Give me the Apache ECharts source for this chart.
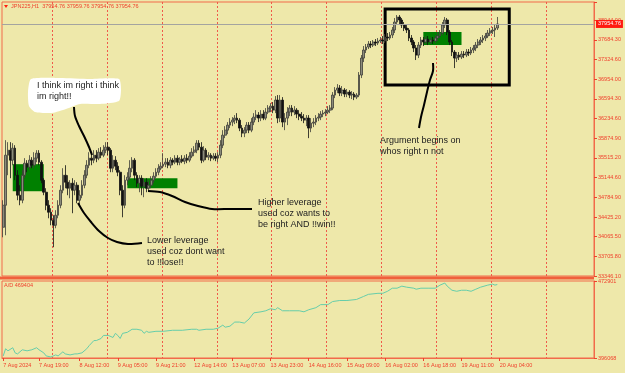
<!DOCTYPE html>
<html><head><meta charset="utf-8">
<script src="https://cdn.jsdelivr.net/npm/echarts@6/dist/echarts.min.js"></script>
<style>html,body{margin:0;padding:0;background:#EEE8AA;}#c{width:625px;height:373px;}</style>
</head><body><div id="c"></div>
<script>
// ---- data (JPN225, H1 candles: open / high / low / close) ----
const opens = [34237,34640,35555,35647,35464,35684,35189,34823,34732,35189,
35409,35336,35464,35372,35501,35592,35427,35098,34878,34640,
34512,34366,34274,34457,34640,34915,35189,35061,34951,35043,
34915,35006,34732,34823,35006,35189,35372,35501,35464,35555,
35501,35610,35555,35647,35702,35647,35317,35464,35354,35244,
34915,34640,35098,35153,35317,35464,35189,35043,35134,34988,
35061,34951,35006,35098,35171,35244,35317,35354,35391,35427,
35372,35464,35427,35501,35427,35482,35446,35501,35464,35537,
35610,35647,35775,35702,35464,35647,35519,35555,35501,35537,
35501,35555,35738,35921,36013,36105,36160,36196,36233,36196,
36050,35958,36013,36105,36013,36160,36251,36288,36233,36306,
36233,36343,36416,36452,36379,36562,36233,36562,36160,36233,
36343,36416,36343,36379,36306,36269,36233,36196,36233,36050,
36141,36160,36233,36251,36306,36324,36343,36379,36416,36654,
36745,36782,36690,36745,36672,36709,36654,36672,36617,36654,
37020,37331,37478,37533,37588,37569,37624,37606,37642,37661,
37642,37716,37697,37752,37844,37990,38082,38027,37935,37880,
37844,37697,37624,37514,37386,37569,37661,37624,37679,37624,
37661,37642,37697,37734,37789,37935,38027,37807,37624,37441,
37331,37386,37349,37404,37386,37441,37423,37478,37514,37569,
37624,37661,37697,37734,37789,37825,37844,37880];
const highs = [34732,35830,35793,35793,35775,35738,35281,35006,35281,35501,
35464,35555,35519,35610,35647,35647,35464,35134,34951,34732,
34585,34457,34549,34732,35006,35317,35372,35189,35098,35134,
35098,35061,34915,35098,35281,35464,35610,35610,35647,35647,
35684,35702,35738,35793,35793,35684,35555,35537,35427,35281,
35006,35189,35244,35464,35519,35501,35244,35189,35189,35134,
35134,35098,35171,35244,35317,35391,35427,35592,35501,35501,
35519,35501,35555,35555,35519,35555,35555,35574,35610,35684,
35720,35830,35830,35793,35720,35684,35610,35592,35592,35592,
35610,35830,36013,36086,36160,36233,36251,36288,36324,36233,
36105,36068,36160,36160,36233,36324,36379,36343,36379,36379,
36416,36471,36507,36526,36636,36654,36654,36617,36324,36434,
36471,36471,36452,36416,36379,36343,36306,36288,36288,36233,
36233,36288,36324,36361,36379,36398,36452,36471,36709,36800,
36855,36837,36819,36782,36764,36745,36727,36709,36690,37075,
37386,37551,37588,37642,37642,37661,37679,37697,37716,37734,
37771,37789,37807,37899,38063,38118,38118,38063,37990,37935,
37880,37752,37661,37569,37624,37716,37716,37734,37734,37716,
37716,37752,37807,37844,37990,38082,38063,37844,37661,37478,
37441,37441,37459,37459,37496,37496,37533,37569,37624,37679,
37716,37752,37789,37844,37880,37899,37935,38082];
const lows = [34054,34091,35189,35134,35372,35098,34732,34640,34677,35134,
35244,35281,35317,35317,35427,35372,35043,34823,34549,34402,
34274,33872,34219,34402,34585,34860,34951,34823,34768,34494,
34823,34677,34640,34768,34951,35134,35317,35372,35409,35427,
35464,35501,35519,35592,35555,35244,35244,35281,35171,34823,
34420,34585,35006,35098,35244,35098,34970,34878,34823,34787,
34878,34915,34951,35043,35134,35189,35281,35317,35336,35317,
35317,35372,35391,35372,35372,35409,35391,35409,35427,35501,
35537,35592,35647,35409,35427,35464,35464,35446,35464,35446,
35427,35501,35684,35867,35940,36050,36086,36123,36141,35995,
35885,35885,35958,35958,35976,36105,36196,36160,36178,36196,
36196,36306,36343,36324,36324,36141,36160,36068,36013,36105,
36269,36269,36288,36233,36196,36178,36141,36086,35867,35976,
36068,36105,36178,36196,36251,36269,36306,36324,36379,36599,
36690,36636,36636,36617,36617,36599,36581,36562,36581,36617,
36965,37258,37423,37496,37514,37533,37551,37569,37606,37588,
37606,37642,37661,37697,37789,37935,37953,37880,37825,37789,
37642,37569,37441,37295,37331,37514,37551,37588,37569,37588,
37588,37606,37642,37697,37752,37880,37752,37569,37368,37148,
37258,37295,37313,37331,37349,37368,37386,37423,37459,37514,
37569,37606,37642,37697,37734,37771,37716,37844];
const closes = [34640,35555,35647,35464,35684,35189,34823,34732,35189,35409,
35336,35464,35372,35501,35592,35427,35098,34878,34640,34512,
34366,34274,34457,34640,34915,35189,35061,34951,35043,34915,
35006,34732,34823,35006,35189,35372,35501,35464,35555,35501,
35610,35555,35647,35702,35647,35317,35464,35354,35244,34915,
34640,35098,35153,35317,35464,35189,35043,35134,34988,35061,
34951,35006,35098,35171,35244,35317,35354,35391,35427,35372,
35464,35427,35501,35427,35482,35446,35501,35464,35537,35610,
35647,35775,35702,35464,35647,35519,35555,35501,35537,35501,
35555,35738,35921,36013,36105,36160,36196,36233,36196,36050,
35958,36013,36105,36013,36160,36251,36288,36233,36306,36233,
36343,36416,36452,36379,36562,36233,36562,36160,36233,36343,
36416,36343,36379,36306,36269,36233,36196,36233,36050,36141,
36160,36233,36251,36306,36324,36343,36379,36416,36654,36745,
36782,36690,36745,36672,36709,36654,36672,36617,36654,37020,
37331,37478,37533,37588,37569,37624,37606,37642,37661,37642,
37716,37697,37752,37844,37990,38082,38027,37935,37880,37844,
37697,37624,37514,37386,37569,37661,37624,37679,37624,37661,
37642,37697,37734,37789,37935,38027,37807,37624,37441,37331,
37386,37349,37404,37386,37441,37423,37478,37514,37569,37624,
37661,37697,37734,37789,37825,37844,37880,37954.76];
const lastPrice = 37954.76;
// A/D indicator: bar index -> value
const adIdx = [0,1,2,4,5,6,8,10,12,14,15,17,18,20,22,23,25,26,28,30,
31,33,35,36,38,39,41,42,44,46,47,48,49,50,52,54,56,58,59,60,
61,64,67,71,75,79,81,82,85,88,90,92,93,95,97,99,101,103,105,108,
110,112,114,115,117,120,124,126,128,131,133,136,138,141,144,148,151,153,157,159,
161,163,165,167,169,172,173,175,178,181,183,185,186,188,190,192,194,196,198,200,
203,205,206,207];
const adVal = [398117,405288,403239,406312,401190,400166,404263,403239,404263,406312,
404263,401190,398117,397092,399141,398117,402214,400166,399141,400166,
400166,401190,405288,408361,413483,413483,415532,418605,418605,416556,
420654,418605,415532,420654,421678,424751,424751,423727,420654,422702,
421678,422702,422702,423727,423727,424751,424751,423727,424751,424751,
425776,428849,426800,427824,431922,431922,430898,434995,441141,442166,
443190,445239,444214,446263,443190,443190,443190,442166,444214,446263,
449337,449337,452410,453434,453434,454459,457532,459581,460605,460605,
462654,465727,465727,467776,466751,465727,464702,465727,465727,465727,
468800,470849,467776,463678,462654,463678,463678,462654,464702,466751,
468800,469825,468800,469404];
const adLast = 469404, adMin = 396068, adMax = 472901;
// axes
const priceTicks = ["33346.10","33705.80","34065.50","34425.20","34784.90","35144.60","35515.20",
"35874.90","36234.60","36594.30","36954.00","37324.60","37684.30","38044.00"];
const priceMin = 33346.1, priceStep = 359.7, priceMax = 38356.2;
const xTickIdx = [0,15,32,48,64,80,96,112,128,144,160,176,192,208];
const xTickText = ["7 Aug 2024","7 Aug 19:00","8 Aug 12:00","9 Aug 05:00","9 Aug 21:00","12 Aug 14:00",
"13 Aug 07:00","13 Aug 23:00","14 Aug 16:00","15 Aug 09:00","16 Aug 02:00","16 Aug 18:00","19 Aug 11:00","20 Aug 04:00"];
const daySepIdx = [21,44,67,90,113,136,159,182,205,228];
const slotCount = 248;
// drawn zones (bar index, price)
const greenZones = [[4,35391,17,34896],[52,35134,73,34951],[176,37807,192,37569]];
const argBox = [160,38228,212,36837];

// ---- build ----
const cats = [];
for (let i = 0; i < slotCount; i++) cats.push(String(i));
const candles = closes.map((c, i) => [opens[i], c, lows[i], highs[i]]);
const adSeries = new Array(slotCount).fill(null);
adIdx.forEach((k, j) => { adSeries[k] = adVal[j]; });

const RED = '#f0402c', FRAME = '#f26a4a', SEP = '#f05a4a';
const FONT = '"Liberation Sans", Arial, sans-serif';
const sepLine = {show: true, interval: (i) => daySepIdx.includes(i), lineStyle: {color: SEP, type: [2, 2], width: 1}};

const chart = echarts.init(document.getElementById('c'), null, {renderer: 'canvas'});
chart.setOption({
  animation: false,
  backgroundColor: '#EEE8AA',
  textStyle: {fontFamily: FONT},
  grid: [
    {left: 2, right: 31, top: 2, height: 274, show: true, borderColor: FRAME, borderWidth: 1},
    {left: 2, right: 31, top: 281, height: 77, show: true, borderColor: FRAME, borderWidth: 1}
  ],
  xAxis: [
    {type: 'category', gridIndex: 0, data: cats, boundaryGap: true,
     axisLine: {show: false}, axisTick: {show: false}, axisLabel: {show: false}, splitLine: sepLine},
    {type: 'category', gridIndex: 1, data: cats, boundaryGap: true,
     axisLine: {show: true, lineStyle: {color: FRAME}},
     axisTick: {show: true, interval: (i) => xTickIdx.includes(i), alignWithLabel: true, length: 3, lineStyle: {color: RED}},
     axisLabel: {interval: (i) => xTickIdx.includes(i), formatter: (v, i) => { const k = xTickIdx.indexOf(i); return k >= 0 ? xTickText[k] : ''; },
       align: 'left', color: RED, fontSize: 5.5, margin: 4, fontFamily: FONT},
     splitLine: sepLine}
  ],
  yAxis: [
    {type: 'value', gridIndex: 0, position: 'right', min: priceMin, max: priceMax, interval: priceStep,
     axisLine: {show: true, lineStyle: {color: FRAME}},
     axisTick: {show: true, length: 3, lineStyle: {color: RED}},
     splitLine: {show: false},
     axisLabel: {color: RED, fontSize: 5.5, margin: 4, fontFamily: FONT,
       formatter: (v) => { const k = Math.round((v - priceMin) / priceStep); return (Math.abs(v - priceMin - k * priceStep) < 1 && priceTicks[k]) ? priceTicks[k] : ''; }}},
    {type: 'value', gridIndex: 1, position: 'right', min: adMin, max: adMax, interval: adMax - adMin,
     axisLine: {show: true, lineStyle: {color: FRAME}},
     axisTick: {show: true, length: 3, lineStyle: {color: RED}},
     splitLine: {show: false},
     axisLabel: {color: RED, fontSize: 5.5, margin: 4, fontFamily: FONT,
       formatter: (v) => Math.abs(v - adMax) < 1 ? String(adMax) : (Math.abs(v - adMin) < 1 ? String(adMin) : '')}}
  ],
  series: [
    {type: 'line', xAxisIndex: 0, yAxisIndex: 0, data: [], z: 1, silent: true,
     markArea: {silent: true, itemStyle: {color: '#008000', opacity: 1},
       data: greenZones.map(z => [{xAxis: z[0], yAxis: z[1]}, {xAxis: z[2], yAxis: z[3]}])}},
    {type: 'candlestick', xAxisIndex: 0, yAxisIndex: 0, data: candles, barWidth: 2.2, z: 3,
     itemStyle: {color: '#8c8c7c', color0: '#111111', borderColor: '#3e3e38', borderColor0: '#111111', borderWidth: 0.8},
     markLine: {silent: true, symbol: 'none', animation: false,
       lineStyle: {color: '#a4a4a0', type: 'solid', width: 1},
       label: {show: true, position: 'end', formatter: lastPrice.toFixed(2), color: '#fff', backgroundColor: '#ff1a10',
         fontSize: 5.5, padding: [1, 2, 1, 2], distance: 2, fontFamily: FONT},
       data: [{yAxis: lastPrice}]}},
    {type: 'line', xAxisIndex: 0, yAxisIndex: 0, data: [], z: 5, silent: true,
     markArea: {silent: true, itemStyle: {color: 'rgba(0,0,0,0)', borderColor: '#000', borderWidth: 3},
       data: [[{xAxis: argBox[0], yAxis: argBox[1]}, {xAxis: argBox[2], yAxis: argBox[3]}]]}},
    {type: 'line', xAxisIndex: 1, yAxisIndex: 1, data: adSeries, connectNulls: true, showSymbol: false,
     lineStyle: {color: '#66cdaa', width: 1}, silent: true}
  ],
  graphic: [
    {type: 'polygon', z: 100, shape: {points: [[4,5],[8,5],[6,8]]}, style: {fill: '#ff2010'}},
    {type: 'text', z: 100, left: 11, top: 3, style: {text: 'JPN225,H1  37954.76 37959.76 37954.76 37954.76', font: '5.5px ' + FONT, fill: RED}},
    {type: 'text', z: 100, left: 4, top: 282, style: {text: 'A/D ' + adLast, font: '5.5px ' + FONT, fill: RED}},
    {type: 'polygon', z: 100, shape: {smooth: 0.2, points: [[31,79],[60,78],[90,79],[119,79],[121,90],[119,101],[100,104],[80,104],[66,109],[52,113],[35,112],[29,106],[28,92]]},
     style: {fill: '#ffffff'}},
    {type: 'text', z: 101, left: 37, top: 80.5, style: {text: 'I think im right i think\nim right!!', font: '9px ' + FONT, fill: '#222', lineHeight: 11}},
    {type: 'polyline', z: 101, shape: {smooth: 0.3, points: [[74,107],[75,116],[79,126],[84,136],[89,147],[92,155]]}, style: {stroke: '#000', lineWidth: 2, fill: null}},
    {type: 'polyline', z: 101, shape: {smooth: 0.3, points: [[78,203],[84,213],[91,222],[99,231],[108,238],[117,242],[128,244],[142,243]]}, style: {stroke: '#000', lineWidth: 2, fill: null}},
    {type: 'polyline', z: 101, shape: {smooth: 0.3, points: [[148,191],[160,192],[172,196],[185,202],[198,206],[212,209],[230,209],[252,209]]}, style: {stroke: '#000', lineWidth: 2, fill: null}},
    {type: 'polyline', z: 101, shape: {smooth: 0.3, points: [[433,63],[433,71],[430,80],[427,92],[424,105],[421,117],[419,128]]}, style: {stroke: '#000', lineWidth: 2, fill: null}},
    {type: 'text', z: 101, left: 147, top: 235, style: {text: 'Lower leverage\nused coz dont want\nto !!lose!!', font: '9px ' + FONT, fill: '#222', lineHeight: 11}},
    {type: 'text', z: 101, left: 258, top: 197.5, style: {text: 'Higher leverage\nused coz wants to\nbe right AND !!win!!', font: '9px ' + FONT, fill: '#222', lineHeight: 11}},
    {type: 'text', z: 101, left: 380, top: 135.5, style: {text: 'Argument begins on\nwhos right n not', font: '9px ' + FONT, fill: '#222', lineHeight: 11}},
    {type: 'rect', z: 100, shape: {x: 0, y: 276.5, width: 594, height: 3}, style: {fill: '#f0603c'}}
  ]
});
</script>
</body></html>
